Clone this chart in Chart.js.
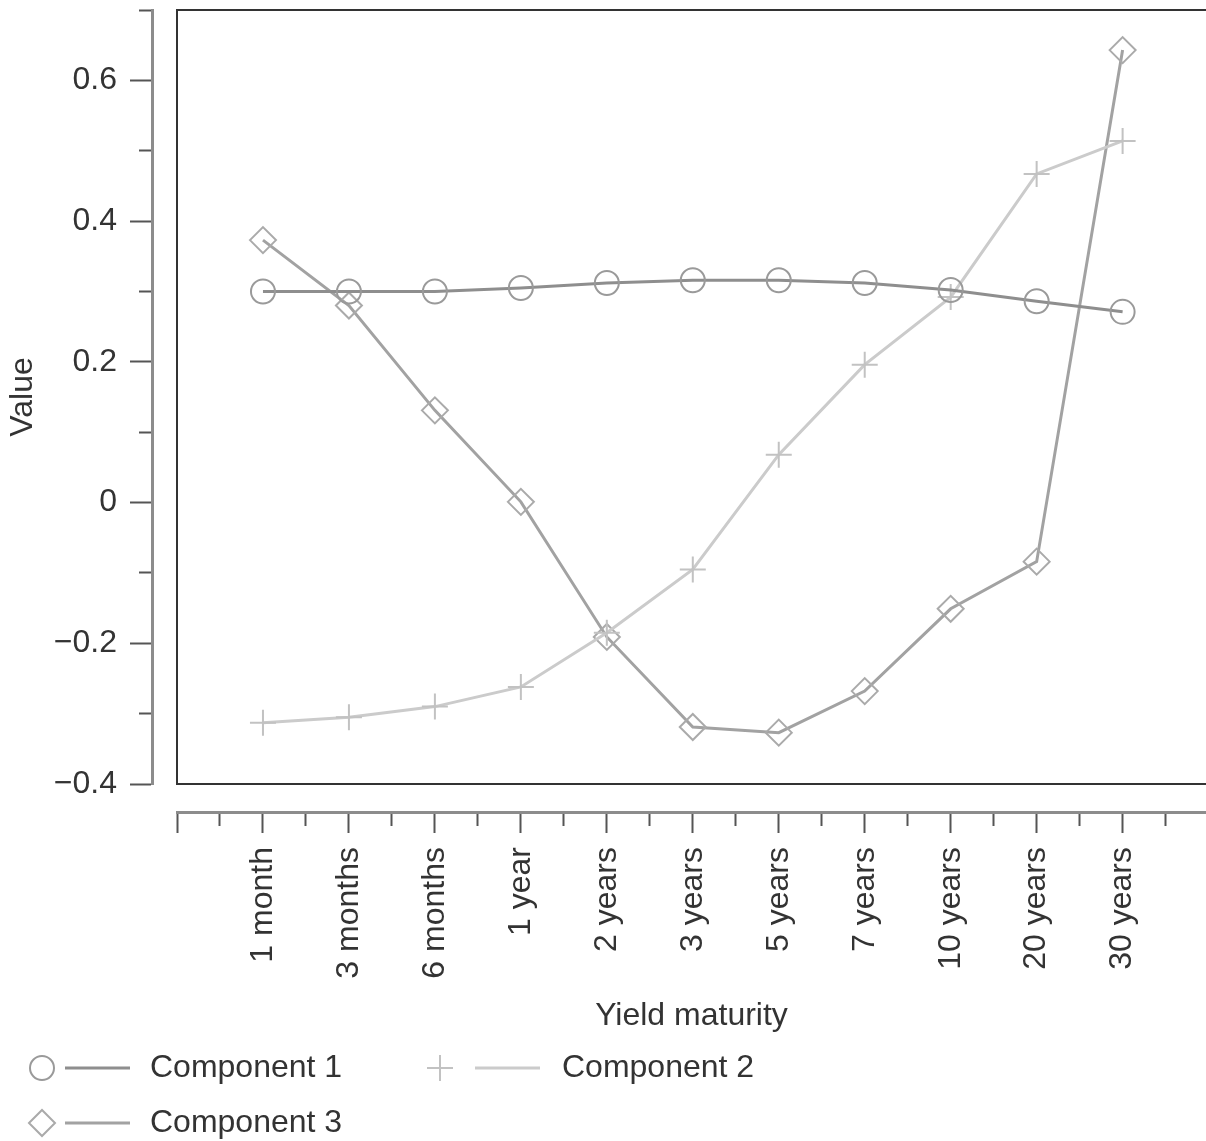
<!DOCTYPE html>
<html lang="en">
<head>
<meta charset="UTF-8">
<title>Principal components by yield maturity</title>
<script src="https://cdn.jsdelivr.net/npm/chart.js@4"></script>
<style>
  html, body { margin: 0; padding: 0; background: #fff; overflow: hidden; }
  #wrap { width: 1206px; height: 1141px; }
</style>
</head>
<body>
<div id="wrap"><canvas id="pcaChart"></canvas></div>
<script>
// values
const maturities = ['1 month', '3 months', '6 months', '1 year', '2 years', '3 years',
                    '5 years', '7 years', '10 years', '20 years', '30 years'];
const component1 = [0.300, 0.300, 0.300, 0.305, 0.312, 0.316, 0.316, 0.312, 0.302, 0.286, 0.271];
const component2 = [-0.313, -0.305, -0.290, -0.262, -0.185, -0.095, 0.068, 0.196, 0.292, 0.467, 0.514];
const component3 = [0.373, 0.280, 0.131, 0.001, -0.191, -0.319, -0.327, -0.268, -0.151, -0.084, 0.643];
const yLabelValues = [-0.4, -0.2, 0, 0.2, 0.4, 0.6];

const FONT = '"Liberation Sans", Arial, Helvetica, sans-serif';
Chart.defaults.font.family = FONT;
Chart.defaults.font.size = 32;
Chart.defaults.color = '#333';

const toPoints = vals => vals.map((v, i) => ({ x: i, y: v }));

const isWhole = v => Math.abs(v - Math.round(v)) < 1e-6;

function fmt(v) {
  const r = Math.round(v * 10) / 10;
  if (r === 0) return '0';
  return (r < 0 ? '\u2212' : '') + Math.abs(r).toFixed(1);
}

// no extra padding from half label heights, the box starts where we say
function noPad(s) {
  s.paddingTop = 0; s.paddingBottom = 0; s.paddingLeft = 0; s.paddingRight = 0;
}

// legend drawn under the axis, marker + line + text like the original
const legendLayout = [
  { ds: 0, mx: 42,  lx1: 65,  lx2: 130, tx: 150, y: 1068 },
  { ds: 1, mx: 440, lx1: 475, lx2: 540, tx: 562, y: 1068 },
  { ds: 2, mx: 42,  lx1: 65,  lx2: 130, tx: 150, y: 1123 }
];

const legendBelow = {
  id: 'legendBelow',
  afterDraw(chart) {
    const ctx = chart.ctx;
    ctx.save();
    legendLayout.forEach(item => {
      const ds = chart.data.datasets[item.ds];
      ctx.strokeStyle = ds.borderColor;
      ctx.lineWidth = ds.borderWidth;
      ctx.beginPath();
      ctx.moveTo(item.lx1, item.y);
      ctx.lineTo(item.lx2, item.y);
      ctx.stroke();

      ctx.strokeStyle = ds.pointBorderColor;
      ctx.fillStyle = 'rgba(0,0,0,0)';
      ctx.lineWidth = ds.pointBorderWidth;
      Chart.helpers.drawPoint(ctx, {
        pointStyle: ds.pointStyle, radius: ds.pointRadius, rotation: 0, borderWidth: ds.pointBorderWidth
      }, item.mx, item.y);

      ctx.fillStyle = '#333';
      ctx.font = '32px ' + FONT;
      ctx.textAlign = 'left';
      ctx.textBaseline = 'middle';
      ctx.fillText(ds.label, item.tx, item.y);
    });
    ctx.restore();
  }
};

const ctx = document.getElementById('pcaChart').getContext('2d');
new Chart(ctx, {
  type: 'line',
  data: {
    datasets: [
      {
        label: 'Component 1',
        data: toPoints(component1),
        xAxisID: 'x', yAxisID: 'y',
        borderColor: '#8e8e8e', borderWidth: 3,
        pointStyle: 'circle', pointRadius: 12,
        pointBorderColor: '#9a9a9a', pointBorderWidth: 2,
        pointBackgroundColor: 'rgba(0,0,0,0)'
      },
      {
        label: 'Component 2',
        data: toPoints(component2),
        xAxisID: 'x', yAxisID: 'y',
        borderColor: '#cbcbcb', borderWidth: 3,
        pointStyle: 'cross', pointRadius: 13,
        pointBorderColor: '#c2c2c2', pointBorderWidth: 2,
        pointBackgroundColor: 'rgba(0,0,0,0)'
      },
      {
        label: 'Component 3',
        data: toPoints(component3),
        xAxisID: 'x', yAxisID: 'y',
        borderColor: '#a2a2a2', borderWidth: 3,
        pointStyle: 'rectRot', pointRadius: 13,
        pointBorderColor: '#aaaaaa', pointBorderWidth: 2,
        pointBackgroundColor: 'rgba(0,0,0,0)'
      }
    ]
  },
  options: {
    responsive: true,
    maintainAspectRatio: false,
    animation: false,
    events: [],
    layout: { autoPadding: false, padding: { top: 10, right: 0, bottom: 101, left: 0 } },
    elements: { line: { tension: 0 } },
    plugins: {
      legend: { display: false },
      tooltip: { enabled: false }
    },
    scales: {
      x: {
        type: 'linear',
        position: 'bottom',
        weight: 1,
        min: -1,
        max: 10.97,
        afterFit: s => { s.height = 228; noPad(s); },
        border: { display: true, color: '#8c8c8c', width: 3 },
        grid: {
          drawOnChartArea: false,
          tickLength: 21,
          tickColor: '#555',
          tickWidth: 2,
          tickBorderDash: c => (c.tick && isWhole(c.tick.value)) ? [] : [12, 100]
        },
        ticks: {
          stepSize: 0.5,
          includeBounds: false,
          autoSkip: false,
          maxRotation: 90,
          minRotation: 90,
          padding: 14,
          color: '#333',
          callback: v => (isWhole(v) && v >= 0 && v < maturities.length) ? maturities[Math.round(v)] : ''
        },
        title: { display: true, text: 'Yield maturity', color: '#333', padding: { top: 0, bottom: 5 } }
      },
      xBox: {
        type: 'linear',
        position: 'bottom',
        weight: 0,
        afterFit: s => { s.height = 28; noPad(s); },
        border: { display: true, color: '#333', width: 2 },
        grid: { display: false },
        ticks: { display: false }
      },
      xTop: {
        type: 'linear',
        position: 'top',
        afterFit: s => { s.height = 0; noPad(s); },
        border: { display: true, color: '#333', width: 2 },
        grid: { display: false },
        ticks: { display: false }
      },
      y: {
        type: 'linear',
        position: 'left',
        weight: 1,
        min: -0.4,
        max: 0.7,
        afterFit: s => { s.width = 152; noPad(s); },
        border: { display: true, color: '#8c8c8c', width: 3 },
        grid: {
          drawOnChartArea: false,
          tickLength: 22,
          tickColor: '#555',
          tickWidth: 2,
          tickBorderDash: c => {
            if (!c.tick) return [];
            const major = yLabelValues.some(l => Math.abs(l - c.tick.value) < 1e-6);
            return major ? [] : [0, 9, 13, 100];
          }
        },
        ticks: {
          stepSize: 0.1,
          padding: 13,
          color: '#333',
          callback: v => yLabelValues.some(l => Math.abs(l - v) < 1e-6) ? fmt(v) : ''
        },
        title: { display: true, text: 'Value', color: '#333', padding: { top: 4, bottom: 0 } }
      },
      yBox: {
        type: 'linear',
        position: 'left',
        weight: 0,
        afterFit: s => { s.width = 25; noPad(s); },
        border: { display: true, color: '#333', width: 2 },
        grid: { display: false },
        ticks: { display: false }
      }
    }
  },
  plugins: [legendBelow]
});
</script>
</body>
</html>
